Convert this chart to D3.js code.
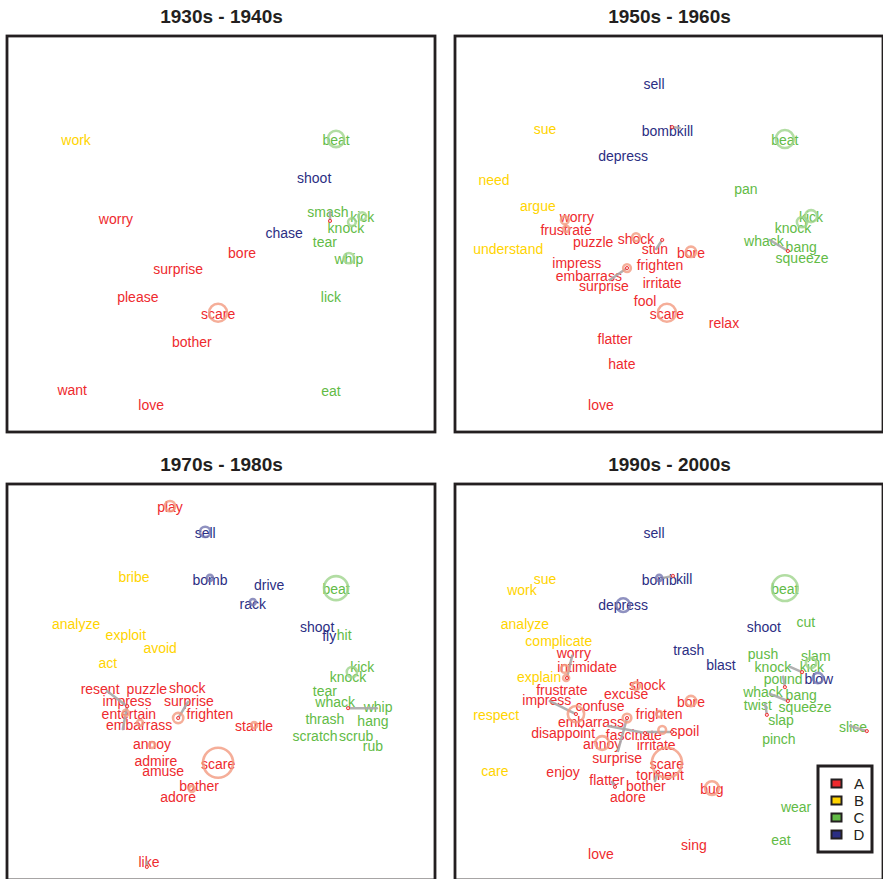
<!DOCTYPE html>
<html>
<head>
<meta charset="utf-8">
<script src="https://cdn.jsdelivr.net/npm/d3@7"></script>
<style>
  html, body { margin: 0; padding: 0; background: #fff; }
  svg { display: block; font-family: "Liberation Sans", Arial, Helvetica, sans-serif; }
</style>
</head>
<body>
<svg id="chart" width="883" height="879"></svg>
<script>
// Verb groups and their colours
const groups = ["A", "B", "C", "D"];
const groupColor = ["#ee2a2e", "#ffd400", "#62bb46", "#2b2e83"];
const ringColor = ["#f39a80", "#f7e27a", "#9fd48c", "#7376b0"];

const panelTitles = ["1930s - 1940s", "1950s - 1960s", "1970s - 1980s", "1990s - 2000s"];

// Word positions in the 2-D embedding: [word, group, x, y]
const words30s = [
  ["work","B",16.1,26.0], ["beat","C",76.7,26.0], ["shoot","D",71.6,35.6],
  ["smash","C",74.8,44.2], ["kick","C",82.8,45.5], ["knock","C",79.0,48.2],
  ["chase","D",64.6,49.5], ["tear","C",74.1,51.8], ["worry","A",25.4,46.0],
  ["bore","A",54.8,54.5], ["whip","C",79.7,56.1], ["surprise","A",39.9,58.6],
  ["please","A",30.5,65.7], ["lick","C",75.5,65.7], ["scare","A",49.2,69.9],
  ["bother","A",43.1,77.0], ["want","A",15.2,89.1], ["love","A",33.6,92.9],
  ["eat","C",75.5,89.4]
];
const words50s = [
  ["sell","D",46.4,11.9], ["bomb","D",47.6,23.7], ["kill","D",53.6,23.7],
  ["sue","B",21.0,23.2], ["depress","D",39.2,30.0], ["beat","C",76.9,26.0],
  ["need","B",9.1,36.1], ["pan","C",67.8,38.4], ["argue","B",19.3,42.7],
  ["worry","A",28.4,45.5], ["frustrate","A",25.9,48.7], ["kick","C",83.0,45.5],
  ["knock","C",78.8,48.2], ["puzzle","A",32.2,51.8], ["shock","A",42.2,51.0],
  ["stun","A",46.6,53.5], ["understand","B",12.4,53.5], ["bore","A",55.0,54.5],
  ["whack","C",72.0,51.5], ["bang","C",80.7,53.0], ["squeeze","C",80.9,55.8],
  ["impress","A",28.4,57.1], ["frighten","A",47.8,57.6], ["embarrass","A",31.2,60.3],
  ["surprise","A",34.7,62.9], ["irritate","A",48.3,62.1], ["fool","A",44.3,66.7],
  ["scare","A",49.4,69.9], ["relax","A",62.7,72.2], ["flatter","A",37.3,76.3],
  ["hate","A",38.9,82.6], ["love","A",34.0,92.9]
];
const words70s = [
  ["play","A",38.0,5.6], ["sell","D",46.2,12.1], ["bribe","B",29.6,23.2],
  ["bomb","D",47.3,24.0], ["drive","D",61.1,25.3], ["beat","C",76.7,26.3],
  ["rack","D",57.3,30.0], ["analyze","B",16.1,35.1], ["shoot","D",72.3,35.9],
  ["fly","D",75.1,38.1], ["hit","C",78.6,37.9], ["exploit","B",27.7,37.9],
  ["avoid","B",35.7,41.2], ["act","B",23.5,44.9], ["kick","C",82.8,46.0],
  ["knock","C",79.5,48.5], ["resent","A",21.7,51.5], ["puzzle","A",32.6,51.5],
  ["shock","A",42.0,51.3], ["tear","C",74.1,52.0], ["impress","A",28.0,54.5],
  ["surprise","A",42.4,54.5], ["whack","C",76.5,54.8], ["whip","C",86.5,56.1],
  ["entertain","A",28.4,57.8], ["frighten","A",47.3,57.8], ["hang","C",85.3,59.6],
  ["thrash","C",74.1,59.1], ["embarrass","A",30.8,60.6], ["startle","A",57.6,60.9],
  ["scratch","C",71.8,63.4], ["scrub","C",81.4,63.4], ["rub","C",85.3,65.9],
  ["annoy","A",33.8,65.4], ["admire","A",34.7,69.7], ["amuse","A",36.4,72.2],
  ["scare","A",49.2,70.4], ["bother","A",44.8,76.0], ["adore","A",39.9,78.8],
  ["like","A",33.1,95.2]
];
const words90s = [
  ["sell","D",46.4,12.1], ["sue","B",21.0,23.7], ["bomb","D",47.6,24.0],
  ["kill","D",53.4,23.7], ["beat","C",76.9,26.3], ["work","B",15.6,26.5],
  ["depress","D",39.2,30.3], ["analyze","B",16.3,35.1], ["shoot","D",72.0,35.9],
  ["cut","C",81.8,34.6], ["complicate","B",24.2,39.4], ["trash","D",54.5,41.7],
  ["push","C",71.8,42.7], ["slam","C",84.1,43.2], ["worry","A",27.7,42.4],
  ["blast","D",62.0,45.5], ["intimidate","A",30.8,46.0], ["knock","C",74.1,46.0],
  ["kick","C",83.2,46.0], ["explain","B",19.6,48.5], ["pound","C",76.5,49.0],
  ["blow","D",84.8,49.0], ["shock","A",44.8,50.5], ["frustrate","A",24.9,51.8],
  ["excuse","A",39.9,52.8], ["whack","C",71.8,52.3], ["bang","C",80.7,53.0],
  ["impress","A",21.4,54.3], ["bore","A",55.0,54.8], ["confuse","A",33.8,55.8],
  ["twist","C",70.6,55.6], ["squeeze","C",81.6,56.1], ["frighten","A",47.6,57.8],
  ["respect","B",9.6,58.1], ["embarrass","A",31.7,59.8], ["slap","C",76.0,59.3],
  ["spoil","A",53.6,62.1], ["disappoint","A",25.2,62.6], ["fascinate","A",41.7,63.1],
  ["slice","C",92.8,61.1], ["annoy","A",34.3,65.4], ["irritate","A",46.9,65.7],
  ["pinch","C",75.5,64.1], ["surprise","A",37.8,68.9], ["scare","A",49.4,70.4],
  ["care","B",9.3,72.2], ["enjoy","A",25.2,72.5], ["torment","A",47.8,73.2],
  ["flatter","A",35.4,74.5], ["bother","A",44.5,76.0], ["bug","A",59.9,76.8],
  ["adore","A",40.3,78.8], ["wear","C",79.5,81.3], ["sing","A",55.7,90.9],
  ["eat","C",76.0,89.6], ["love","A",34.0,93.2]
];

// Rings mark the amount of semantic change: [group, x, y, radius] (radius in x units)
const rings30s = [
  ["C",76.7,26.0,1.9], ["C",82.8,45.5,0.9], ["C",80.4,47.0,0.9],
  ["C",79.7,56.1,1.2], ["A",49.2,69.9,2.1]
];
const rings50s = [
  ["C",76.9,26.0,2.1], ["A",25.6,46.5,0.9], ["A",25.9,48.7,0.7],
  ["C",83.0,45.5,1.4], ["C",80.9,47.0,1.2], ["A",42.2,50.8,0.9],
  ["A",55.0,54.5,1.2], ["A",40.1,58.6,0.9], ["A",49.4,69.9,2.1]
];
const rings70s = [
  ["A",38.0,5.6,1.2], ["D",46.2,12.1,1.2], ["D",47.3,23.7,0.7],
  ["C",76.7,26.3,2.8], ["D",57.3,29.8,0.7], ["C",80.4,47.5,1.2],
  ["A",39.9,59.1,1.2], ["A",31.0,60.3,0.7], ["A",57.6,60.9,0.7],
  ["A",27.7,57.8,0.7], ["A",33.8,65.9,0.7], ["A",49.2,70.4,3.5],
  ["A",43.1,77.0,0.7]
];
const rings90s = [
  ["D",47.6,23.7,0.7], ["D",39.2,30.6,1.6], ["C",76.9,26.3,3.0],
  ["A",25.6,46.7,0.9], ["A",25.9,49.0,0.7], ["C",83.0,45.2,1.2],
  ["D",84.6,49.0,1.2], ["A",42.2,51.0,0.9], ["A",55.0,54.8,1.2],
  ["A",28.2,58.1,1.9], ["A",40.1,59.1,1.0], ["A",48.3,62.1,0.9],
  ["A",34.3,65.4,1.6], ["A",49.4,70.4,3.5], ["A",59.9,76.8,1.6],
  ["A",47.6,58.1,0.7]
];

// Short trajectories of words that moved: [x1, y1, x2, y2]
const moves30s = [[75.3,44.4,75.3,46.7]];
const moves50s = [
  [52.4,23.2,50.6,23.0], [46.9,53.8,48.3,51.5],
  [73.4,51.5,77.6,54.3], [36.1,61.6,40.1,58.6]
];
const moves70s = [
  [86.2,56.6,79.5,56.6], [42.2,55.0,39.9,59.1],
  [23.3,52.3,28.0,56.1], [27.0,61.9,28.0,56.1], [32.6,95.4,32.6,96.7]
];
const moves90s = [
  [27.3,43.4,26.1,49.0], [22.1,54.8,28.2,58.1], [38.0,67.4,40.1,59.1],
  [35.7,61.1,44.3,62.9], [44.8,62.6,50.6,62.6], [46.6,75.0,47.3,72.7],
  [36.6,75.2,37.3,76.5], [48.5,23.7,50.8,23.2], [78.1,46.2,80.9,47.5],
  [76.5,48.7,76.9,51.3], [73.4,53.0,77.6,54.8], [72.3,55.6,72.7,58.3],
  [92.1,61.1,96.0,62.4]
];

const panels = [
  { title: panelTitles[0], words: words30s, rings: rings30s, moves: moves30s, left: 7, top: 36 },
  { title: panelTitles[1], words: words50s, rings: rings50s, moves: moves50s, left: 455, top: 36 },
  { title: panelTitles[2], words: words70s, rings: rings70s, moves: moves70s, left: 7, top: 484 },
  { title: panelTitles[3], words: words90s, rings: rings90s, moves: moves90s, left: 455, top: 484 }
];

const panelW = 429, panelH = 396;
const colorOf = d3.scaleOrdinal().domain(groups).range(groupColor);
const ringOf = d3.scaleOrdinal().domain(groups).range(ringColor);
const x = d3.scaleLinear().domain([0, 100]).range([0, panelW]);
const y = d3.scaleLinear().domain([0, 100]).range([0, panelH]);

const svg = d3.select("#chart");

panels.forEach((p, i) => {
  const g = svg.append("g").attr("transform", `translate(${p.left},${p.top})`);

  svg.append("text")
    .attr("x", p.left + panelW / 2)
    .attr("y", p.top - 13)
    .attr("text-anchor", "middle")
    .attr("font-size", 19)
    .attr("font-weight", "bold")
    .attr("fill", "#231f20")
    .text(p.title);

  g.append("g").selectAll("text")
    .data(p.words)
    .join("text")
    .attr("x", d => x(d[2]))
    .attr("y", d => y(d[3]))
    .attr("dy", "0.42em")
    .attr("text-anchor", "middle")
    .attr("font-size", 14)
    .attr("fill", d => colorOf(d[1]))
    .text(d => d[0]);

  g.append("g").selectAll("line")
    .data(p.moves)
    .join("line")
    .attr("x1", d => x(d[0])).attr("y1", d => y(d[1]))
    .attr("x2", d => x(d[2])).attr("y2", d => y(d[3]))
    .attr("stroke", "#a9a9a9")
    .attr("stroke-width", 2.5)
    .attr("stroke-linecap", "round")
    .attr("opacity", 0.9);

  g.append("g").selectAll("circle")
    .data(p.rings)
    .join("circle")
    .attr("cx", d => x(d[1]))
    .attr("cy", d => y(d[2]))
    .attr("r", d => x(d[3]) - x(0))
    .attr("fill", "none")
    .attr("stroke", d => ringOf(d[0]))
    .attr("stroke-width", 2.6)
    .attr("opacity", 0.8);

  g.append("g").selectAll("circle")
    .data(p.moves)
    .join("circle")
    .attr("cx", d => x(d[2]))
    .attr("cy", d => y(d[3]))
    .attr("r", 1.6)
    .attr("fill", "#fbd3d3")
    .attr("stroke", "#ee2a2e")
    .attr("stroke-width", 0.9);

  g.append("rect")
    .attr("x", 0).attr("y", 0)
    .attr("width", panelW - 1).attr("height", panelH)
    .attr("fill", "none")
    .attr("stroke", "#231f20")
    .attr("stroke-width", 2.8);

  if (i === 3) {
    const lg = g.append("g").attr("transform", `translate(${363},${282})`);
    lg.append("rect")
      .attr("width", 54).attr("height", 86)
      .attr("fill", "#fff")
      .attr("stroke", "#231f20")
      .attr("stroke-width", 3);
    const item = lg.selectAll("g.item")
      .data(groups)
      .join("g")
      .attr("class", "item")
      .attr("transform", (d, k) => `translate(0,${18 + k * 17})`);
    item.append("rect")
      .attr("x", 13.5).attr("y", -4.5)
      .attr("width", 10).attr("height", 8)
      .attr("fill", d => colorOf(d))
      .attr("stroke", "#231f20")
      .attr("stroke-width", 2);
    item.append("text")
      .attr("x", 41)
      .attr("dy", "0.36em")
      .attr("text-anchor", "middle")
      .attr("font-size", 15)
      .attr("fill", "#231f20")
      .text(d => d);
  }
});
</script>
</body>
</html>
